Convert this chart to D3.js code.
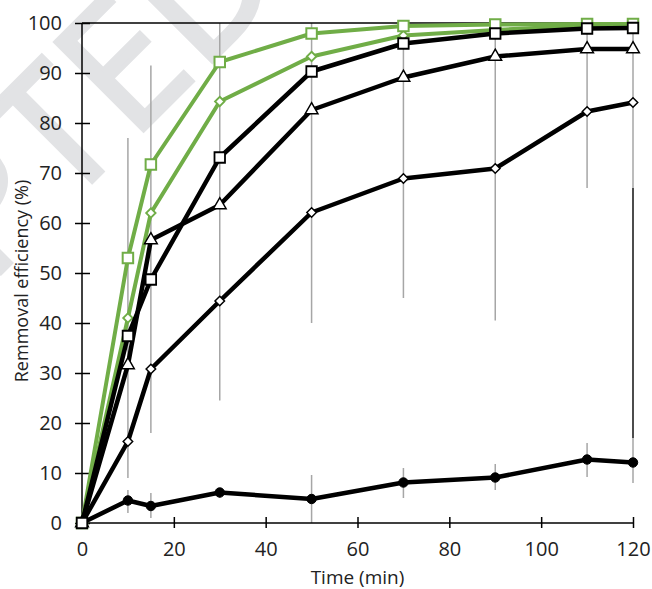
<!DOCTYPE html>
<html>
<head>
<meta charset="utf-8">
<script src="https://cdn.jsdelivr.net/npm/d3@7"></script>
<style>
  body { margin: 0; background: #fff; }
  svg { display: block; font-family: "Open Sans", sans-serif; }
</style>
</head>
<body>
<div id="chart"></div>
<script>
const times = [0, 10, 15, 30, 50, 70, 90, 110, 120];
const greenSquare   = [0, 53, 71.7, 92.2, 97.9, 99.4, 99.7, 99.8, 99.8];
const greenDiamond  = [0, 41, 62, 84.3, 93.3, 97.5, 98.6, 99.5, 99.6];
const blackSquare   = [0, 37.4, 48.7, 73.1, 90.3, 95.9, 97.9, 98.9, 99.0];
const blackTriangle = [0, 31.6, 56.6, 63.6, 82.6, 89.1, 93.3, 94.8, 94.8];
const blackDiamond  = [0, 16.3, 30.8, 44.4, 62.1, 68.9, 70.9, 82.3, 84.1];
const blackCircle   = [0, 4.5, 3.4, 6.1, 4.8, 8.1, 9.1, 12.7, 12.1];

// error bars as they appear in the figure (clipped at 100)
const errTimes  = [10, 15, 30, 50, 70, 90, 110, 120];
const upperLow  = [9, 18, 24.5, 40, 45, 40.5, 67, 67];
const upperHigh = [77, 91.5, 100, 100, 100, 100, 100, 100];
const lowerLow  = [2, 1, 5, 0, 5, 6.6, 9.2, 8];
const lowerHigh = [6.6, 6, 7, 9.6, 11, 11.8, 16, 17];
const darkBar = { t: 120, lo: 17, hi: 67 };

const xTicks = [0, 20, 40, 60, 80, 100, 120];
const yTicks = [0, 10, 20, 30, 40, 50, 60, 70, 80, 90, 100];

const W = 652, H = 589;
const svg = d3.select("#chart").append("svg")
  .attr("width", W)
  .attr("height", H);

// watermark (runs off the page, as in the original)
svg.append("text")
  .attr("transform", "translate(290,-16) rotate(-45)")
  .attr("text-anchor", "end")
  .style("font-size", "175px")
  .style("font-family", "Open Sans")
  .attr("fill", "#e2e3e5")
  .attr("stroke", "#e2e3e5")
  .attr("stroke-width", 4)
  .text("ACCEPTED");

const x = d3.scaleLinear().domain([0, 120]).range([82, 633]);
const y = d3.scaleLinear().domain([0, 100]).range([523, 23]);

// error bars
const eb = svg.append("g");
errTimes.forEach((t, i) => {
  eb.append("line")
    .attr("x1", x(t)).attr("x2", x(t))
    .attr("y1", y(upperLow[i])).attr("y2", y(upperHigh[i]))
    .attr("stroke", "#a6a6a6").attr("stroke-width", 1.5);
  eb.append("line")
    .attr("x1", x(t)).attr("x2", x(t))
    .attr("y1", y(lowerLow[i])).attr("y2", y(lowerHigh[i]))
    .attr("stroke", "#a6a6a6").attr("stroke-width", 1.5);
});
eb.append("line")
  .attr("x1", x(darkBar.t)).attr("x2", x(darkBar.t))
  .attr("y1", y(darkBar.lo)).attr("y2", y(darkBar.hi))
  .attr("stroke", "#111").attr("stroke-width", 1.5);

// axes
const xAxis = svg.append("g")
  .attr("transform", `translate(0,${y(0)})`)
  .call(d3.axisBottom(x).tickValues(xTicks).tickSize(6).tickPadding(13));
xAxis.selectAll(".tick line").attr("y1", -6).attr("y2", 5);

const yAxis = svg.append("g")
  .attr("transform", `translate(${x(0)},0)`)
  .call(d3.axisLeft(y).tickValues(yTicks).tickSize(7).tickPadding(13));
yAxis.selectAll(".tick line").attr("x1", -7).attr("x2", 8);

[xAxis, yAxis].forEach(a => {
  a.select(".domain").attr("stroke", "#000").attr("stroke-width", 1.5);
  a.selectAll(".tick line").attr("stroke", "#000").attr("stroke-width", 1.5);
  a.selectAll(".tick text")
    .attr("fill", "#222")
    .style("font-size", "20px")
    .style("font-family", "Open Sans");
});
yAxis.select(".domain").attr("d", `M0,${y(0)}V${y(100)}`);
xAxis.select(".domain").attr("d", `M${x(0)},0H${x(120)}`);

// top frame line
svg.append("line")
  .attr("x1", x(0)).attr("x2", x(120))
  .attr("y1", y(100)).attr("y2", y(100))
  .attr("stroke", "#000").attr("stroke-width", 1.5);

// titles
svg.append("text")
  .attr("x", (x(0) + x(120)) / 2)
  .attr("y", 584)
  .attr("text-anchor", "middle")
  .attr("fill", "#222")
  .style("font-size", "19px")
  .text("Time (min)");

svg.append("text")
  .attr("transform", `translate(28,281) rotate(-90)`)
  .attr("text-anchor", "middle")
  .attr("fill", "#222")
  .style("font-size", "18px")
  .text("Remmoval efficiency (%)");

// series
const diamond = {
  draw(ctx, size) {
    const r = Math.sqrt(size) / 2;
    ctx.moveTo(0, -r); ctx.lineTo(r, 0); ctx.lineTo(0, r); ctx.lineTo(-r, 0); ctx.closePath();
  }
};

const green = "#70ad47";
const series = [
  { vals: greenDiamond, color: green, lw: 4, sym: diamond, size: 90, fill: "#fff", sw: 1.8 },
  { vals: greenSquare, color: green, lw: 4, sym: d3.symbolSquare, size: 110, fill: "#fff", sw: 2 },
  { vals: blackCircle, color: "#000", lw: 4.5, sym: d3.symbolCircle, size: 70, fill: "#000", sw: 1 },
  { vals: blackDiamond, color: "#000", lw: 4.5, sym: diamond, size: 90, fill: "#fff", sw: 1.5 },
  { vals: blackTriangle, color: "#000", lw: 4.5, sym: d3.symbolTriangle, size: 70, fill: "#fff", sw: 1.5 },
  { vals: blackSquare, color: "#000", lw: 4.5, sym: d3.symbolSquare, size: 110, fill: "#fff", sw: 1.8 }
];

const line = d3.line().x(d => x(d[0])).y(d => y(d[1]));

series.forEach(s => {
  const pts = times.map((t, i) => [t, s.vals[i]]);
  svg.append("path")
    .attr("d", line(pts))
    .attr("fill", "none")
    .attr("stroke", s.color)
    .attr("stroke-width", s.lw)
    .attr("stroke-linejoin", "round");
  svg.append("g").selectAll("path")
    .data(pts)
    .join("path")
    .attr("transform", d => `translate(${x(d[0])},${y(d[1])})`)
    .attr("d", d3.symbol().type(s.sym).size(s.size))
    .attr("fill", s.fill)
    .attr("stroke", s.color)
    .attr("stroke-width", s.sw);
});
</script>
</body>
</html>
